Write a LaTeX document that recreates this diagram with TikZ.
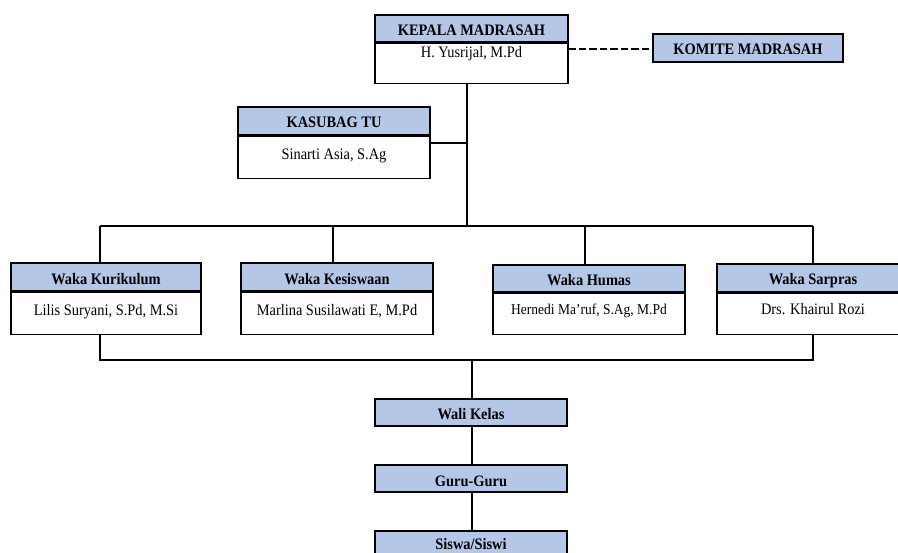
\documentclass[tikz,border=0pt]{standalone}
\usepackage{fontspec}
\setmainfont{Liberation Serif}[FakeStretch=0.9]
\definecolor{hb}{HTML}{B4C7E7}
\begin{document}
\begin{tikzpicture}[x=1pt,y=-1pt,
 frame/.style={draw=black, line width=1.5pt, inner xsep=0pt, inner ysep=0pt},
 hdr/.style={frame, fill=hb, font=\fontsize{16}{18}\selectfont\bfseries, text height=21pt, text depth=6pt},
 bodyb/.style={frame, fill=white, font=\fontsize{16}{18}\selectfont, anchor=north},
 conn/.style={line width=1.7pt, draw=black},
]
\useasboundingbox (0,0) rectangle (898,553);
\clip (0,0) rectangle (898,553);

% connector junctions
\coordinate (top) at (467,226);
\coordinate (kasJ) at (467,143);
\coordinate (dk) at (568,49);
\coordinate (r1) at (100,226);
\coordinate (r2) at (333,226);
\coordinate (r3) at (585,226);
\coordinate (r4) at (813,226);
\coordinate (b1) at (100,360);
\coordinate (b4) at (813,360);
\coordinate (m) at (472,360);

% KEPALA
\node[hdr, minimum width=193pt] (kepH) at (471.5,28.5) {KEPALA MADRASAH};
\node[bodyb, minimum width=193pt, text height=14pt, text depth=26pt] (kepB) at (kepH.south) {H. Yusrijal, M.Pd};
% KOMITE
\node[hdr, minimum width=190pt, text depth=7pt] (komH) at (748,48) {KOMITE MADRASAH};
% KASUBAG
\node[hdr, minimum width=192pt, text depth=7pt] (kasH) at (334,121) {KASUBAG TU};
\node[bodyb, minimum width=192pt, text height=23pt, text depth=19pt] (kasB) at (kasH.south) {Sinarti Asia, S.Ag};

% Waka row
\node[hdr, minimum width=190pt, text height=22pt] (wk1H) at (106,277) {Waka Kurikulum};
\node[bodyb, minimum width=190pt, text height=23pt, text depth=19pt] (wk1B) at (wk1H.south) {Lilis Suryani, S.Pd, M.Si};
\node[hdr, minimum width=192pt, text height=22pt] (wk2H) at (337,277) {Waka Kesiswaan};
\node[bodyb, minimum width=192pt, text height=23pt, text depth=19pt] (wk2B) at (wk2H.south) {Marlina Susilawati E, M.Pd};
\node[hdr, minimum width=192pt] (wk3H) at (589,278.5) {Waka Humas};
\node[bodyb, minimum width=192pt, text height=21pt, text depth=20pt, font=\fontsize{15}{17}\selectfont] (wk3B) at (wk3H.south) {Hernedi Ma’ruf, S.Ag, M.Pd};
\node[hdr, minimum width=192pt, text depth=7pt] (wk4H) at (813,278) {Waka Sarpras};
\node[bodyb, minimum width=192pt, text height=21pt, text depth=20pt] (wk4B) at (wk4H.south) {Drs. Khairul Rozi};

% lower chain
\node[hdr, minimum width=192pt] (waliH) at (471,412.5) {Wali Kelas};
\node[hdr, minimum width=192pt] (guruH) at (471,478.5) {Guru-Guru};
\node[hdr, minimum width=192pt, text height=18pt, text depth=9pt] (siswaH) at (471,544.5) {Siswa/Siswi};

% connectors
\draw[conn, dash pattern=on 7.5pt off 3pt] (dk) -- (komH.west |- dk);
\draw[conn] (kepB.south -| top) -- (top);
\draw[conn] (kasB.east |- kasJ) -- (kasJ);
\draw[conn] (r1) -- (r4);
\draw[conn] (r1) -- (r1 |- wk1H.north);
\draw[conn] (r2) -- (r2 |- wk2H.north);
\draw[conn] (r3) -- (r3 |- wk3H.north);
\draw[conn] (r4) -- (r4 |- wk4H.north);
\draw[conn] (wk1B.south -| b1) -- (b1) -- (b4) -- (wk4B.south -| b4);
\draw[conn] (m) -- (m |- waliH.north);
\draw[conn] (waliH.south -| m) -- (guruH.north -| m);
\draw[conn] (guruH.south -| m) -- (siswaH.north -| m);
\end{tikzpicture}
\end{document}
